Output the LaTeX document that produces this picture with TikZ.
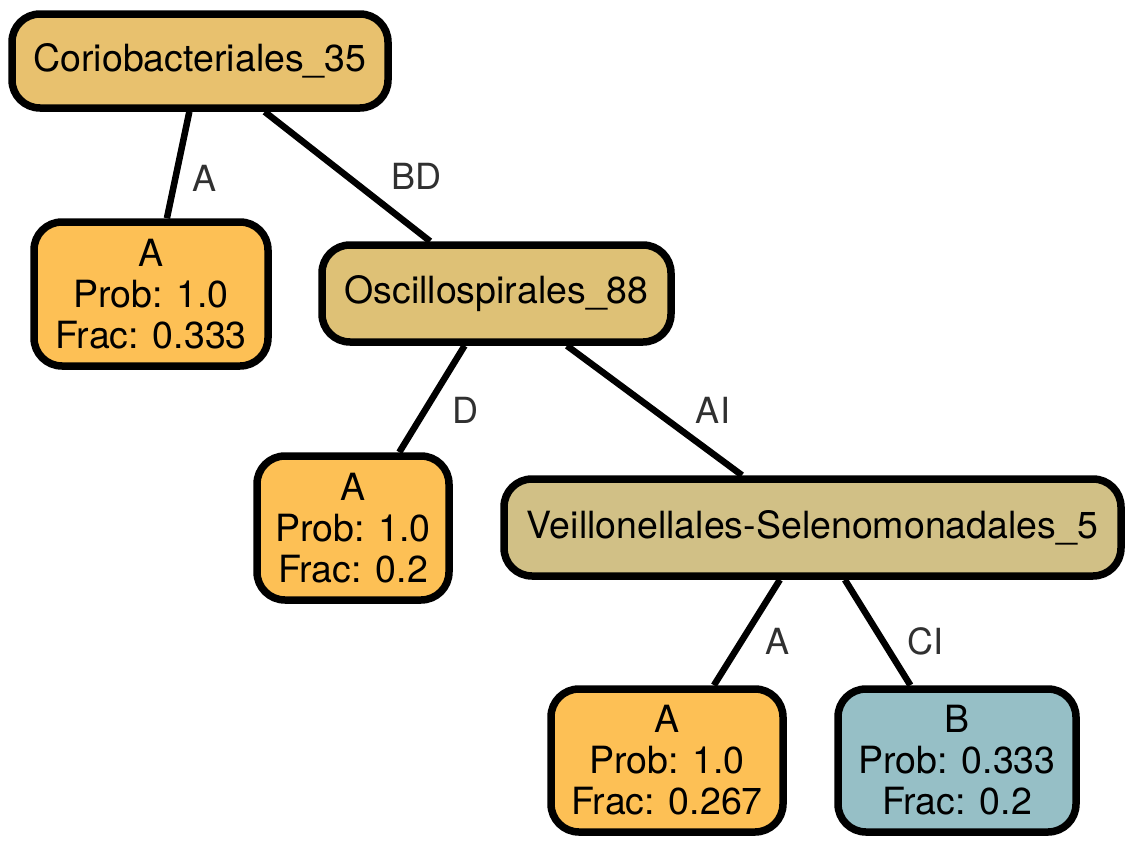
\documentclass[tikz,border=0pt]{standalone}
\usepackage{fontspec}
\setmainfont{TeX Gyre Heros}
\usetikzlibrary{backgrounds}
\definecolor{corio}{RGB}{232,193,110}
\definecolor{oscil}{RGB}{222,193,118}
\definecolor{veil}{RGB}{209,192,134}
\definecolor{leafA}{RGB}{253,192,85}
\definecolor{leafB}{RGB}{150,191,198}
\definecolor{labelgray}{RGB}{48,48,48}
\begin{document}
\begin{tikzpicture}[x=1pt,y=-1pt,
  box/.style={draw=black, line width=7.5pt, rounded corners=28pt, align=center,
    font=\fontsize{37.5}{41}\selectfont, inner sep=0pt},
  conn/.style={draw=black, line width=6.5pt},
  elabel/.style={text=labelgray, font=\fontsize{36}{40}\selectfont, inner sep=0pt}]
\useasboundingbox (0,0) rectangle (1133,846);

\node[box, fill=corio, minimum width=376pt, minimum height=94pt] (corio) at (200,61) {Coriobacteriales\_35};
\node[box, fill=leafA, minimum width=234pt, minimum height=144pt] (leaf1) at (151,294) {A\\Prob: 1.0\\Frac: 0.333};
\node[box, fill=oscil, minimum width=349pt, minimum height=97pt] (oscil) at (496.5,293.5) {Oscillospirales\_88};
\node[box, fill=leafA, minimum width=192pt, minimum height=144pt] (leaf2) at (353,528) {A\\Prob: 1.0\\Frac: 0.2};
\node[box, fill=veil, minimum width=617pt, minimum height=97pt] (veil) at (812.5,527.5) {Veillonellales-Selenomonadales\_5};
\node[box, fill=leafA, minimum width=232pt, minimum height=143pt] (leaf3) at (667,760.5) {A\\Prob: 1.0\\Frac: 0.267};
\node[box, fill=leafB, minimum width=238pt, minimum height=143pt] (leaf4) at (957,760.5) {B\\Prob: 0.333\\Frac: 0.2};

\begin{scope}[on background layer]
\draw[conn] (corio) -- (leaf1);
\draw[conn] (corio) -- (oscil);
\draw[conn] (oscil) -- (leaf2);
\draw[conn] (oscil) -- (veil);
\draw[conn] (veil) -- (leaf3);
\draw[conn] (veil) -- (leaf4);
\end{scope}

\node[elabel] (l1) at (205,178) {A};
\node[elabel] (l2) at (416,176) {BD};
\node[elabel] (l3) at (465,410) {D};
\node[elabel] (l4) at (713,410) {AI};
\node[elabel] (l5) at (777,641) {A};
\node[elabel] (l6) at (925,641) {CI};
\end{tikzpicture}
\end{document}
